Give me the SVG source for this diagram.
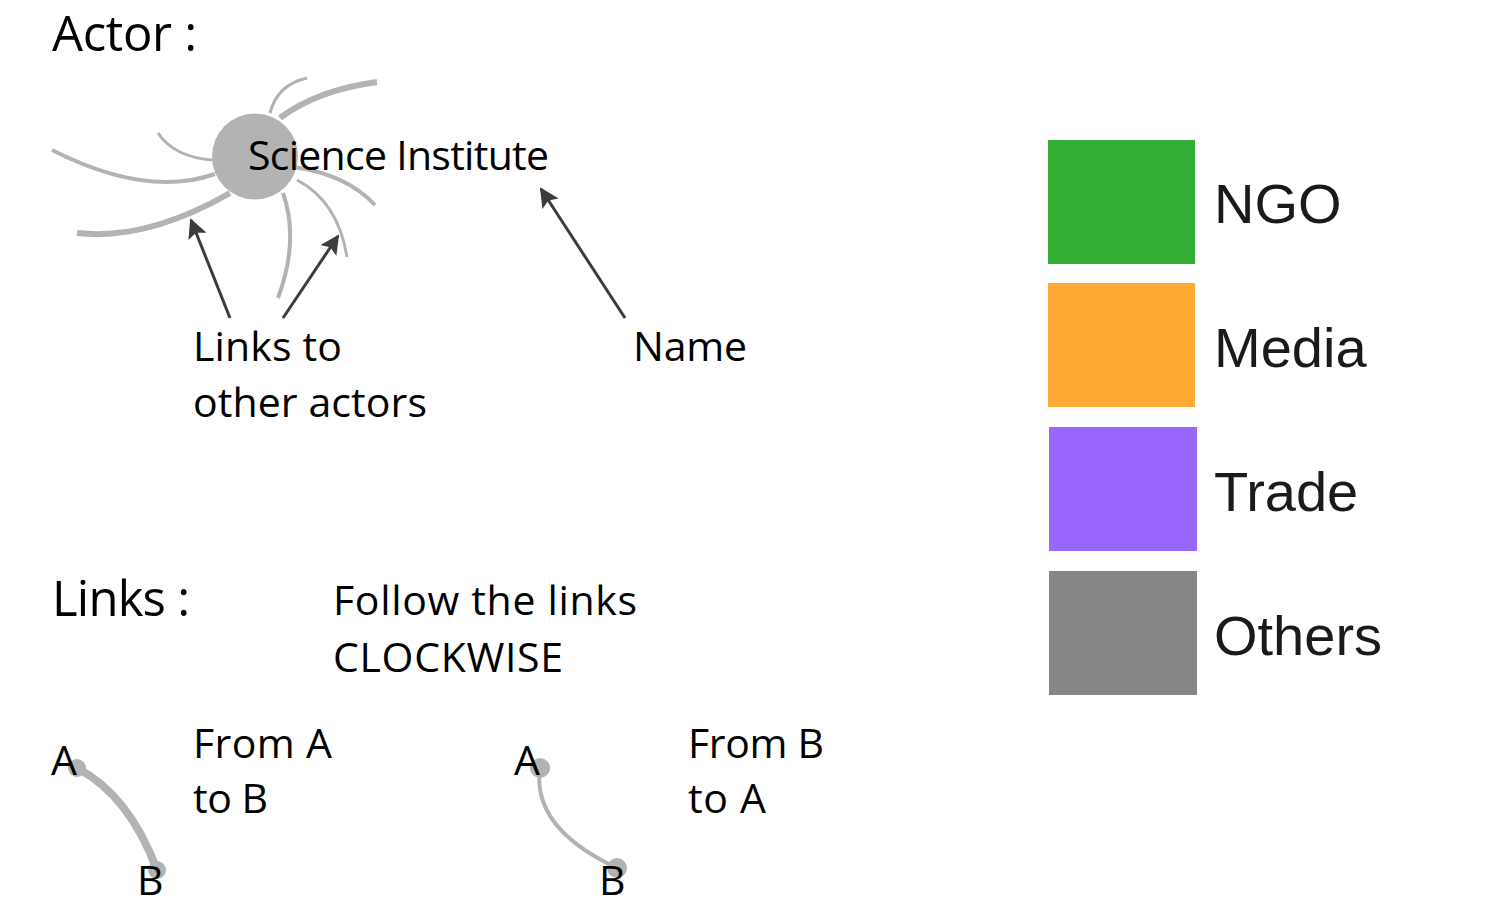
<svg xmlns="http://www.w3.org/2000/svg" width="1510" height="905" viewBox="0 0 1510 905">
<style>
.t{font-family:"Open Sans","Noto Sans","DejaVu Sans",sans-serif;fill:#000;font-size:41px}
.h{font-size:49px}
.lg{font-family:"Liberation Sans",Arial,sans-serif;font-size:56px;fill:#1a1a1a}
.lk{fill:none;stroke:#b3b3b3;stroke-linecap:butt}
.ar{fill:none;stroke:#3c3c3c;stroke-width:3}
.dot{fill:#b3b3b3}
</style>
<defs>
<marker id="ah" viewBox="0 0 10 10" refX="9" refY="5" markerWidth="6.5" markerHeight="6.5" markerUnits="strokeWidth" orient="auto">
<path d="M0,0 L10,5 L0,10 L2,5 Z" fill="#3c3c3c"/>
</marker>
</defs>
<rect width="1510" height="905" fill="#fff"/>
<text class="t h" x="52" y="51" textLength="145">Actor :</text>
<g id="actor">
<g id="actor-links">
<path class="lk" stroke-width="4" d="M52,150 Q146.5,198 215,174"/>
<path class="lk" stroke-width="3" d="M158,133 Q174.5,157.5 213,160"/>
<path class="lk" stroke-width="6" d="M77,233 Q146.5,241 230,193"/>
<path class="lk" stroke-width="3" d="M307,78 Q277.5,84.5 270,113"/>
<path class="lk" stroke-width="6" d="M377,82 Q317.5,90 280,118"/>
<path class="lk" stroke-width="4" d="M293,167 Q346,174 375,205"/>
<path class="lk" stroke-width="3" d="M297,180 Q338,201.5 347,257"/>
<path class="lk" stroke-width="4" d="M283,193 Q299.5,240.5 278,298"/>
</g>
<circle class="dot" cx="255" cy="156.5" r="43"/>
<text class="t" x="248" y="170" textLength="301">Science Institute</text>
</g>
<g id="connectors">
<line class="ar" x1="230" y1="318" x2="191" y2="220" marker-end="url(#ah)"/>
<line class="ar" x1="283" y1="318" x2="338" y2="236" marker-end="url(#ah)"/>
<line class="ar" x1="625" y1="318" x2="541" y2="189" marker-end="url(#ah)"/>
</g>
<g id="label-links">
<text class="t" x="193" y="361" textLength="149">Links to</text>
<text class="t" x="193" y="417" textLength="234">other actors</text>
</g>
<g id="label-name"><text class="t" x="633" y="361" textLength="114">Name</text></g>
<text class="t h" x="52" y="616" textLength="138">Links :</text>
<g id="clockwise">
<text class="t" x="333" y="615" textLength="304">Follow the links</text>
<text class="t" x="333" y="672" textLength="230">CLOCKWISE</text>
</g>
<g id="ab">
<path class="lk" stroke-width="8" d="M77,768 Q129,795 157,870"/>
<circle class="dot" cx="77" cy="768" r="9"/>
<circle class="dot" cx="157" cy="870" r="9"/>
<text class="t" x="51" y="775">A</text>
<text class="t" x="137" y="895">B</text>
<text class="t" x="193" y="758" textLength="139">From A</text>
<text class="t" x="193" y="813" textLength="75">to B</text>
</g>
<g id="ba">
<path class="lk" stroke-width="4" d="M540,768 Q531.5,828 617,868"/>
<circle class="dot" cx="540" cy="768" r="10"/>
<circle class="dot" cx="617" cy="868" r="10"/>
<text class="t" x="514" y="775">A</text>
<text class="t" x="599" y="895">B</text>
<text class="t" x="688" y="758" textLength="136">From B</text>
<text class="t" x="688" y="813" textLength="78">to A</text>
</g>
<g id="legend-ngo"><rect x="1048" y="140" width="147" height="124" fill="#34ad34"/><text class="lg" x="1214" y="223">NGO</text></g>
<g id="legend-media"><rect x="1048" y="283" width="147" height="124" fill="#ffab33"/><text class="lg" x="1214" y="367">Media</text></g>
<g id="legend-trade"><rect x="1049" y="427" width="148" height="124" fill="#9966ff"/><text class="lg" x="1214" y="511">Trade</text></g>
<g id="legend-others"><rect x="1049" y="571" width="148" height="124" fill="#868686"/><text class="lg" x="1214" y="655">Others</text></g>
</svg>
